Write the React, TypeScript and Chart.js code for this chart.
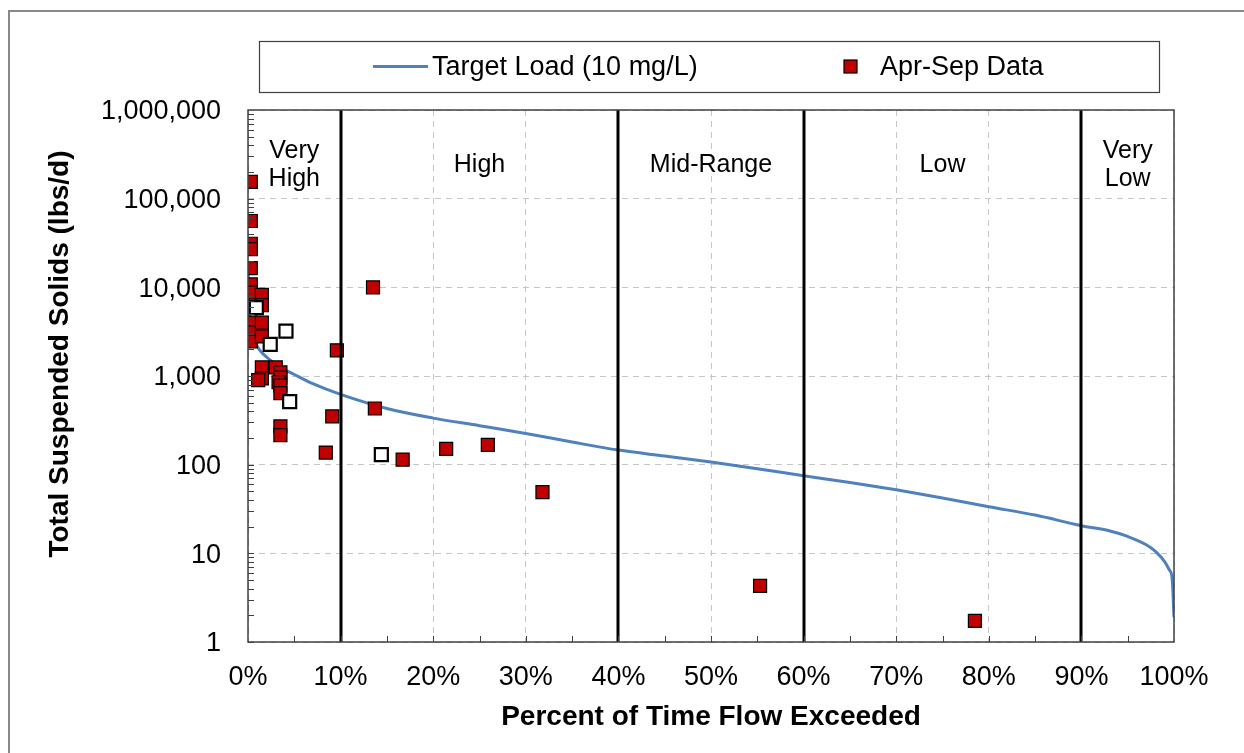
import React, { useEffect, useRef } from "react";
import { Chart, registerables } from "chart.js";

Chart.register(...registerables);

const FONT = '"Liberation Sans", Arial, Helvetica, sans-serif';

// Target load duration curve (percent of time flow exceeded, lbs/d)
const targetPct = [0, 0.1, 0.3, 0.6, 1.2, 2.3, 3.5, 5, 7, 10, 15, 20, 25, 30, 35, 40, 45, 50, 55, 60, 65, 70, 75, 80, 85, 90, 93, 95, 97, 98, 99, 99.5, 99.8, 100];
const targetLoad = [20000, 7000, 3400, 2600, 2000, 1540, 1250, 1040, 820, 620, 430, 335, 275, 225, 180, 146, 125, 107, 90, 75, 63, 52, 42, 33.5, 27, 20.5, 18, 15.5, 12.5, 10.5, 8, 6.5, 5.2, 1.9];

// Apr-Sep observed loads
const aprSepPct = [0.3, 0.3, 0.3, 0.3, 0.3, 0.3, 0.3, 1.5, 1.5, 0.3, 0.3, 0.3, 1.5, 1.5, 9.6, 1.5, 1.5, 1.1, 3.0, 3.5, 3.5, 3.3, 3.5, 3.5, 3.5, 3.5, 9.1, 8.4, 13.5, 13.7, 16.7, 21.4, 25.9, 31.8, 55.3, 78.5];
const aprSepLoad = [155000, 56000, 31000, 27000, 16500, 10800, 8700, 8200, 6300, 4000, 3100, 2450, 4000, 2800, 1950, 1250, 940, 900, 1250, 1100, 960, 850, 780, 640, 270, 215, 350, 137, 10000, 430, 114, 151, 167, 49, 4.3, 1.73];

// Other-season observed loads (hollow markers, not in legend)
const otherPct = [0.9, 2.4, 4.1, 4.5, 14.4];
const otherLoad = [5900, 2270, 3200, 515, 130];

const yTicks = [1, 10, 100, 1000, 10000, 100000, 1000000];
const zoneBounds = [10, 40, 60, 90];
const zoneCenters = [5, 25, 50, 75, 95];
const zoneLabels = [["Very", "High"], ["High"], ["Mid-Range"], ["Low"], ["Very", "Low"]];

const BLUE = "#4F81BD";
const RED = "#C00000";

const decor = {
  id: "decor",
  beforeDraw(chart: any) {
    const ctx = chart.ctx;
    ctx.save();
    ctx.fillStyle = "#fff";
    ctx.fillRect(0, 0, chart.width, chart.height);
    ctx.strokeStyle = "#888";
    ctx.lineWidth = 2;
    ctx.strokeRect(9, 11, chart.width + 20, chart.height + 20);
    ctx.restore();
  },
  afterDatasetsDraw(chart: any) {
    const ctx = chart.ctx;
    const { left, right, top, bottom } = chart.chartArea;
    const x = chart.scales.x;
    const y = chart.scales.y;
    ctx.save();

    // flow zone boundaries
    ctx.strokeStyle = "#000";
    ctx.lineWidth = 3;
    zoneBounds.forEach((b) => {
      const px = Math.round(x.getPixelForValue(b));
      ctx.beginPath();
      ctx.moveTo(px, top);
      ctx.lineTo(px, bottom);
      ctx.stroke();
    });

    // plot frame
    ctx.strokeStyle = "#404040";
    ctx.lineWidth = 1.5;
    ctx.strokeRect(left, top, right - left, bottom - top);

    // y minor ticks (inside)
    ctx.lineWidth = 1;
    ctx.strokeStyle = "#404040";
    for (let i = 0; i < yTicks.length - 1; i++) {
      for (let k = 1; k <= 9; k++) {
        const py = Math.round(y.getPixelForValue(yTicks[i] * k)) + 0.5;
        ctx.beginPath();
        ctx.moveTo(left, py);
        ctx.lineTo(left + 6, py);
        ctx.stroke();
      }
    }
    // x ticks (inside)
    for (let p = 5; p < 100; p += 5) {
      const px = Math.round(x.getPixelForValue(p)) + 0.5;
      ctx.beginPath();
      ctx.moveTo(px, bottom);
      ctx.lineTo(px, bottom - 6);
      ctx.stroke();
    }

    // zone labels
    ctx.fillStyle = "#000";
    ctx.font = `25px ${FONT}`;
    ctx.textAlign = "center";
    ctx.textBaseline = "middle";
    zoneLabels.forEach((lines, i) => {
      const px = x.getPixelForValue(zoneCenters[i]);
      if (lines.length === 2) {
        ctx.fillText(lines[0], px, 151);
        ctx.fillText(lines[1], px, 179);
      } else {
        ctx.fillText(lines[0], px, 165);
      }
    });

    // y axis title
    ctx.save();
    ctx.translate(60, 354);
    ctx.rotate(-Math.PI / 2);
    ctx.font = `bold 28px ${FONT}`;
    ctx.fillText("Total Suspended Solids (lbs/d)", 0, 0);
    ctx.restore();

    // legend
    const ds = chart.data.datasets;
    ctx.strokeStyle = "#404040";
    ctx.lineWidth = 1.2;
    ctx.strokeRect(259.5, 41.5, 900, 51);
    ctx.strokeStyle = BLUE;
    ctx.lineWidth = 3;
    ctx.beginPath();
    ctx.moveTo(373, 66.5);
    ctx.lineTo(428, 66.5);
    ctx.stroke();
    ctx.font = `27px ${FONT}`;
    ctx.textAlign = "left";
    ctx.fillStyle = "#000";
    ctx.fillText(ds[2].label, 432, 68);
    ctx.fillStyle = RED;
    ctx.fillRect(844, 60, 13, 13);
    ctx.strokeStyle = "#000";
    ctx.lineWidth = 1.2;
    ctx.strokeRect(844, 60, 13, 13);
    ctx.fillStyle = "#000";
    ctx.fillText(ds[1].label, 880, 68);

    ctx.restore();
  },
};

export default function App() {
  const ref = useRef<HTMLCanvasElement | null>(null);
  useEffect(() => {
    if (!ref.current) return;
    const tickFont = { family: FONT, size: 27 };
    const chart = new Chart(ref.current, {
      type: "scatter",
      data: {
        datasets: [
          {
            label: "Oct-Mar Data",
            data: otherPct.map((p, i) => ({ x: p, y: otherLoad[i] })),
            pointStyle: "rect",
            pointRadius: 9.2,
            backgroundColor: "#fff",
            borderColor: "#000",
            borderWidth: 2.2,
            order: 0,
          },
          {
            label: "Apr-Sep Data",
            data: aprSepPct.map((p, i) => ({ x: p, y: aprSepLoad[i] })),
            pointStyle: "rect",
            pointRadius: 9.2,
            backgroundColor: RED,
            borderColor: "#000",
            borderWidth: 1.2,
            order: 1,
          },
          {
            label: "Target Load (10 mg/L)",
            data: targetPct.map((p, i) => ({ x: p, y: targetLoad[i] })),
            showLine: true,
            pointRadius: 0,
            borderColor: BLUE,
            backgroundColor: BLUE,
            borderWidth: 3,
            cubicInterpolationMode: "monotone",
            order: 2,
          } as any,
        ],
      },
      options: {
        responsive: false,
        animation: false,
        devicePixelRatio: 1,
        events: [],
        layout: { padding: { top: 110, right: 70, left: 0, bottom: 0 } },
        plugins: { legend: { display: false }, tooltip: { enabled: false } },
        scales: {
          x: {
            type: "linear",
            min: 0,
            max: 100,
            afterFit: (s: any) => {
              s.height = 111;
            },
            ticks: {
              stepSize: 10,
              autoSkip: false,
              maxRotation: 0,
              padding: 19,
              color: "#000",
              font: tickFont,
              callback: (v: any) => `${v}%`,
            },
            grid: { color: "#c6c6c6", lineWidth: 1, drawTicks: false },
            border: { display: false, dash: [6, 5] },
            title: {
              display: true,
              text: "Percent of Time Flow Exceeded",
              color: "#000",
              font: { family: FONT, size: 28, weight: "bold" },
              padding: { top: 0, bottom: 19 },
            },
          },
          y: {
            type: "logarithmic",
            min: 1,
            max: 1000000,
            afterBuildTicks: (s: any) => {
              s.ticks = yTicks.map((v) => ({ value: v }));
            },
            afterFit: (s: any) => {
              s.width = 248;
            },
            ticks: {
              padding: 27,
              labelOffset: 2,
              color: "#000",
              font: tickFont,
              autoSkip: false,
              callback: (v: any) => Number(v).toLocaleString("en-US"),
            },
            grid: { color: "#c6c6c6", lineWidth: 1, drawTicks: false },
            border: { display: false, dash: [6, 5] },
          },
        },
      } as any,
      plugins: [decor],
    });
    return () => chart.destroy();
  }, []);
  return (
    <div style={{ position: "relative", width: 1244, height: 753 }}>
      <canvas
        ref={ref}
        width={1244}
        height={753}
        style={{ position: "fixed", left: 0, top: 0, width: 1244, height: 753 }}
      />
    </div>
  );
}
